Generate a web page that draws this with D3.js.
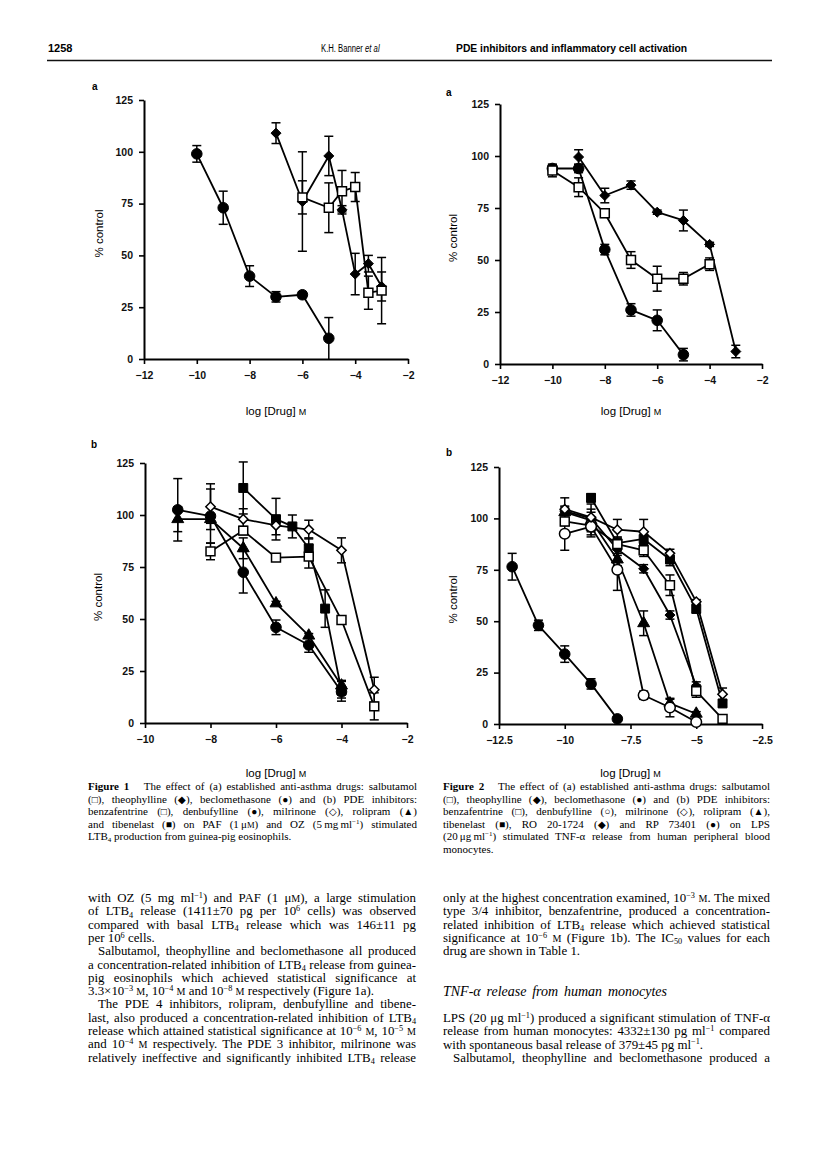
<!DOCTYPE html>
<html>
<head>
<meta charset="utf-8">
<script src="https://cdn.jsdelivr.net/npm/d3@7"></script>
<style>
body{margin:0;background:#fff}
svg{display:block}
.sans{font-family:"Liberation Sans",Arial,sans-serif}
.serif{font-family:"Liberation Serif","Times New Roman",serif;white-space:pre}
</style>
</head>
<body>
<script>
// tick values
var yTicks = [0, 25, 50, 75, 100, 125];
var xTicksA = [-12, -10, -8, -6, -4, -2];
var xTicks1b = [-10, -8, -6, -4, -2];
var xTicks2b = [-12.5, -10, -7.5, -5, -2.5];

// Figure 1a  [log dose, % control, s.e.]
var f1aSalbutamol = [[-6,78,8],[-5,73,12],[-4.5,81,10],[-4,83,7],[-3.5,32,8],[-3,33,16]];
var f1aTheophylline = [[-7,109,5],[-6,76,24],[-5,98,9.5],[-4.5,72,2],[-4,41,10],[-3.5,46,4],[-3,35,7]];
var f1aBeclomethasone = [[-10,99,4],[-9,73,8],[-8,40,5],[-7,30,2.5],[-6,31,1.5],[-5,10,10]];

// Figure 2a
var f2aSalbutamol = [[-10,93,3],[-9,85,4.5],[-8,72.5,2],[-7,50,4],[-6,41,6],[-5,41,3],[-4,48,3]];
var f2aTheophylline = [[-9,99.5,3.5],[-8,81,3.5],[-7,86,2],[-6,73,1],[-5,69,5],[-4,57.5,1],[-3,6,3]];
var f2aBeclomethasone = [[-10,94,2],[-9,94,2],[-8,55,2.5],[-7,26,3],[-6,21,5],[-5,4.5,3]];

// Figure 1b
var f1bBenzafentrine = [[-8,82.5,4],[-7,92.5,2],[-6,79.5,1],[-5,80,5.5],[-4,49.5,1],[-3,8,6.5]];
var f1bDenbufylline = [[-9,102.5,15],[-8,99.5,13],[-7,72.5,10],[-6,46,3.5],[-5,37.5,3.5],[-4,15,3]];
var f1bMilrinone = [[-8,104,11],[-7,98,5],[-6,95,4.5],[-5,93,4.5],[-4,83,6],[-3,16,6]];
var f1bRolipram = [[-9,98,6],[-8,98,2],[-7,84,5],[-6,57.5,1],[-5,42,1],[-4,18,2]];
var f1bTibenelast = [[-7,113,12.5],[-6,98,10],[-5.5,94.5,5.5],[-5,84,5],[-4.5,55,9],[-4,15.5,5]];

// Figure 2b
var f2bBenzafentrine = [[-10,98.5,2],[-9,96.5,3],[-8,87.5,3],[-7,84.5,3],[-6,67.5,5],[-5,16,3],[-4,2.5,1]];
var f2bDenbufylline = [[-10,92.5,8],[-9,96,4],[-8,75,10],[-7,14,2],[-6,8,4.5],[-5,1,1]];
var f2bMilrinone = [[-10,104.5,5.5],[-9,100.5,4],[-8,94.5,5],[-7,93.5,6],[-6,83,2],[-5,59.5,1],[-4,14.5,3]];
var f2bRolipram = [[-10,103,3],[-9,99,8],[-8,80,3],[-7,49,6],[-6,10,2],[-5,5,1]];
var f2bTibenelast = [[-9,110,2],[-8,88,3],[-7,90,3],[-6,80,3],[-5,56,2],[-4,10,1.5]];
var f2bRO201724 = [[-10,103.5,2],[-9,100,3],[-8,85,3],[-7,75.5,2],[-6,53,2],[-5,18.5,2]];
var f2bRP73401 = [[-12,76.5,6.5],[-11,48,2.5],[-10,34,4],[-9,19.5,2.5],[-8,2.5,1]];

var svg = d3.select("body").append("svg").attr("width", 816).attr("height", 1161);

// marker shapes: [d3 symbol, size, filled]
var markers = {
	squareOpen: [d3.symbolSquare, 80, false],
	squareFilled: [d3.symbolSquare, 80, true],
	circleFilled: [d3.symbolCircle, 88, true],
	circleOpen: [d3.symbolCircle, 88, false],
	diamondFilled: [d3.symbolDiamond2 || d3.symbolDiamond, 64, true],
	diamondOpen: [d3.symbolDiamond2 || d3.symbolDiamond, 56, false],
	triangleFilled: [d3.symbolTriangle, 62, true]
};

function fmt(d){ return (d < 0 ? "\u2212" : "") + Math.abs(d); }

function drawPanel(cfg){
	var g = svg.append("g");
	var x = d3.scaleLinear().domain(cfg.xDomain).range(cfg.xRange);
	var y = d3.scaleLinear().domain([0, 125]).range(cfg.yRange);

	var xa = g.append("g").attr("transform", "translate(0," + cfg.yRange[0] + ")")
		.call(d3.axisBottom(x).tickValues(cfg.xTicks).tickSize(5).tickSizeOuter(0).tickPadding(8).tickFormat(fmt));
	var ya = g.append("g").attr("transform", "translate(" + cfg.xRange[0] + ",0)")
		.call(d3.axisLeft(y).tickValues(yTicks).tickSize(5).tickSizeOuter(0).tickPadding(6));
	[xa, ya].forEach(function(a){
		a.select(".domain").attr("stroke-width", 2);
		a.selectAll(".tick line").attr("stroke-width", 1.6);
		a.selectAll("text").attr("class", "sans").style("font-size", "10.5px").style("font-weight", "bold").attr("fill", "#111");
	});

	// panel letter
	g.append("text").attr("class", "sans").attr("x", cfg.letterPos[0]).attr("y", cfg.letterPos[1])
		.style("font-size", "10px").style("font-weight", "bold").text(cfg.letter);

	// axis titles
	var midY = (cfg.yRange[0] + cfg.yRange[1]) / 2 + 4;
	g.append("text").attr("class", "sans").style("font-size", "11.5px").attr("text-anchor", "middle")
		.attr("transform", "translate(" + cfg.yLabelX + "," + midY + ") rotate(-90)").text("% control");
	var xt = g.append("text").attr("class", "sans").style("font-size", "11.5px").attr("text-anchor", "middle")
		.attr("x", (cfg.xRange[0] + cfg.xRange[1]) / 2).attr("y", cfg.titleY);
	xt.append("tspan").text("log [Drug] ");
	xt.append("tspan").style("font-size", "9px").text("M");

	var line = d3.line().x(function(d){ return x(d[0]); }).y(function(d){ return y(d[1]); });

	cfg.series.forEach(function(s){
		g.append("path").datum(s.data).attr("d", line).attr("fill", "none")
			.attr("stroke", "#000").attr("stroke-width", 1.8).attr("stroke-linejoin", "round");
	});
	cfg.series.forEach(function(s){
		var eb = g.append("g").attr("stroke", "#000").attr("stroke-width", 1.5);
		s.data.forEach(function(d){
			if (!d[2]) return;
			var cx = x(d[0]), t = y(d[1] + d[2]), b = y(Math.max(0, d[1] - d[2]));
			eb.append("line").attr("x1", cx).attr("x2", cx).attr("y1", t).attr("y2", b);
			eb.append("line").attr("x1", cx - 4.5).attr("x2", cx + 4.5).attr("y1", t).attr("y2", t);
			if (d[1] - d[2] > 0) eb.append("line").attr("x1", cx - 4.5).attr("x2", cx + 4.5).attr("y1", b).attr("y2", b);
		});
	});
	cfg.series.forEach(function(s){
		var m = markers[s.marker];
		g.selectAll(null).data(s.data).enter().append("path")
			.attr("transform", function(d){ return "translate(" + x(d[0]) + "," + y(d[1]) + ")"; })
			.attr("d", d3.symbol().type(m[0]).size(m[1]))
			.attr("fill", m[2] ? "#000" : "#fff")
			.attr("stroke", "#000").attr("stroke-width", m[2] ? 1 : 1.5);
	});
}

drawPanel({letter: "a", letterPos: [92, 90], xDomain: [-12, -2], xRange: [144, 408], yRange: [359, 100],
	xTicks: xTicksA, yLabelX: 103, titleY: 415,
	series: [{data: f1aBeclomethasone, marker: "circleFilled"}, {data: f1aTheophylline, marker: "diamondFilled"},
		{data: f1aSalbutamol, marker: "squareOpen"}]});
drawPanel({letter: "a", letterPos: [446, 96], xDomain: [-12, -2], xRange: [500, 762], yRange: [364, 104],
	xTicks: xTicksA, yLabelX: 457, titleY: 415,
	series: [{data: f2aBeclomethasone, marker: "circleFilled"}, {data: f2aTheophylline, marker: "diamondFilled"},
		{data: f2aSalbutamol, marker: "squareOpen"}]});
drawPanel({letter: "b", letterPos: [91, 448], xDomain: [-10, -2], xRange: [145, 407], yRange: [723, 463],
	xTicks: xTicks1b, yLabelX: 102, titleY: 777,
	series: [{data: f1bDenbufylline, marker: "circleFilled"}, {data: f1bRolipram, marker: "triangleFilled"},
		{data: f1bTibenelast, marker: "squareFilled"}, {data: f1bBenzafentrine, marker: "squareOpen"},
		{data: f1bMilrinone, marker: "diamondOpen"}]});
drawPanel({letter: "b", letterPos: [446, 456], xDomain: [-12.5, -2.5], xRange: [499, 762], yRange: [724, 467],
	xTicks: xTicks2b, yLabelX: 457, titleY: 777,
	series: [{data: f2bRP73401, marker: "circleFilled"}, {data: f2bRO201724, marker: "diamondFilled"},
		{data: f2bRolipram, marker: "triangleFilled"}, {data: f2bTibenelast, marker: "squareFilled"},
		{data: f2bBenzafentrine, marker: "squareOpen"}, {data: f2bDenbufylline, marker: "circleOpen"},
		{data: f2bMilrinone, marker: "diamondOpen"}]});

// header, squeezed horizontally to look like the condensed face of the journal
function headText(x, sx, bold, parts){
	var t = svg.append("text").attr("class", "sans").attr("transform", "translate(" + x + ",52) scale(" + sx + ",1)")
		.style("font-size", "11px");
	if (bold) t.style("font-weight", "bold");
	parts.forEach(function(p){ t.append("tspan").style("font-style", p[1] ? "italic" : "normal").text(p[0]); });
}
headText(48, 1, true, [["1258"]]);
headText(321, 0.7, false, [["K.H. Banner "], ["et al", true]]);
headText(456, 0.94, true, [["PDE inhibitors and inflammatory cell activation"]]);
svg.append("line").attr("x1", 47).attr("x2", 772).attr("y1", 60.5).attr("y2", 60.5).attr("stroke", "#111").attr("stroke-width", 1.5);

// running text with ^{sup}, _{sub}, **bold**, ~small~, #symbol# ; sizes in em so a block can be rescaled
function richLine(x, y, w, str, justify, italic){
	var t = svg.append("text").attr("class", "serif").attr("x", x).attr("y", y);
	if (italic) t.style("font-style", "italic");
	var parts = str.split(/(\^\{[^}]*\}|_\{[^}]*\}|\*\*[^*]+\*\*|~[^~]+~|#[^#]+#)/).filter(function(s){ return s.length; });
	var shift = 0;
	parts.forEach(function(p){
		var ts = t.append("tspan"), dy = 0, txt = p, k = 1;
		if (p.indexOf("^{") === 0){ txt = p.slice(2, -1); dy = -0.32; k = 0.64; }
		else if (p.indexOf("_{") === 0){ txt = p.slice(2, -1); dy = 0.2; k = 0.64; }
		else if (p.indexOf("**") === 0){ txt = p.slice(2, -2); ts.style("font-weight", "bold"); }
		else if (p[0] === "~"){ txt = p.slice(1, -1); k = 0.78; }
		else if (p[0] === "#"){ txt = p.slice(1, -1); k = 0.92; }
		if (k !== 1) ts.style("font-size", k + "em");
		if (dy - shift !== 0) ts.attr("dy", ((dy - shift) / k) + "em");
		shift = dy;
		ts.text(txt);
	});
	return {sel: t, w: w, justify: justify};
}

// justify lines by word spacing; a line that is too long is squeezed
function setBlock(lines, size){
	lines.forEach(function(l){
		l.sel.style("font-size", size + "px");
		if (!l.justify) return;
		var len = l.sel.node().getComputedTextLength();
		var n = (l.sel.text().match(/ /g) || []).length;
		if (len > l.w) l.sel.attr("textLength", l.w).attr("lengthAdjust", "spacing");
		else if (n) l.sel.style("word-spacing", ((l.w - len) / n) + "px");
	});
}

var cap1 = [
	"**Figure 1**   The effect of (a) established anti-asthma drugs: salbutamol",
	"(#\u25a1#), theophylline (#\u25c6#), beclomethasone (#\u25cf#) and (b) PDE inhibitors:",
	"benzafentrine (#\u25a1#), denbufylline (#\u25cf#), milrinone (#\u25c7#), rolipram (#\u25b2#)",
	"and tibenelast (#\u25a0#) on PAF (1\u2009\u03bc~M~) and OZ (5\u2009mg\u2009ml^{\u22121}) stimulated",
	"LTB_{4} production from guinea-pig eosinophils."
];
var cap2 = [
	"**Figure 2**   The effect of (a) established anti-asthma drugs: salbutamol",
	"(#\u25a1#), theophylline (#\u25c6#), beclomethasone (#\u25cf#) and (b) PDE inhibitors:",
	"benzafentrine (#\u25a1#), denbufylline (#\u25cb#), milrinone (#\u25c7#), rolipram (#\u25b2#),",
	"tibenelast (#\u25a0#), RO 20-1724 (#\u25c6#) and RP 73401 (#\u25cf#) on LPS",
	"(20\u2009\u03bcg\u2009ml^{\u22121}) stimulated TNF-\u03b1 release from human peripheral blood",
	"monocytes."
];
setBlock(cap1.map(function(s, i){ return richLine(88, 790 + i * 12.5, 329, s, i < cap1.length - 1); }), 11);
setBlock(cap2.map(function(s, i){ return richLine(443, 790 + i * 12.5, 327, s, i < cap2.length - 1); }), 11);

// body text: [text, justified, indent]
var bodyLeft = [
	["with OZ (5 mg ml^{\u22121}) and PAF (1 \u03bc~M~), a large stimulation", true, 0],
	["of LTB_{4} release (1411\u00b170 pg per 10^{6} cells) was observed", true, 0],
	["compared with basal LTB_{4} release which was 146\u00b111 pg", true, 0],
	["per 10^{6} cells.", false, 0],
	["Salbutamol, theophylline and beclomethasone all produced", true, 10],
	["a concentration-related inhibition of LTB_{4} release from guinea-", true, 0],
	["pig eosinophils which achieved statistical significance at", true, 0],
	["3.3\u00d710^{\u22123} ~M~, 10^{\u22124} ~M~ and 10^{\u22128} ~M~ respectively (Figure 1a).", false, 0],
	["The PDE 4 inhibitors, rolipram, denbufylline and tibene-", true, 10],
	["last, also produced a concentration-related inhibition of LTB_{4}", true, 0],
	["release which attained statistical significance at 10^{\u22126} ~M~, 10^{\u22125} ~M~", true, 0],
	["and 10^{\u22124} ~M~ respectively. The PDE 3 inhibitor, milrinone was", true, 0],
	["relatively ineffective and significantly inhibited LTB_{4} release", true, 0]
];
var bodyRight = [
	["only at the highest concentration examined, 10^{\u22123} ~M~. The mixed", true, 0],
	["type 3/4 inhibitor, benzafentrine, produced a concentration-", true, 0],
	["related inhibition of LTB_{4} release which achieved statistical", true, 0],
	["significance at 10^{\u22126} ~M~ (Figure 1b). The IC_{50} values for each", true, 0],
	["drug are shown in Table 1.", false, 0]
];
var bodyRight2 = [
	["LPS (20 \u03bcg ml^{\u22121}) produced a significant stimulation of TNF-\u03b1", true, 0],
	["release from human monocytes: 4332\u00b1130 pg ml^{\u22121} compared", true, 0],
	["with spontaneous basal release of 379\u00b145 pg ml^{\u22121}.", false, 0],
	["Salbutamol, theophylline and beclomethasone produced a", true, 10]
];
var body = [];
bodyLeft.forEach(function(r, i){ body.push(richLine(88 + r[2], 902 + i * 13.3, 328 - r[2], r[0], r[1])); });
bodyRight.forEach(function(r, i){ body.push(richLine(443 + r[2], 902 + i * 13.3, 327 - r[2], r[0], r[1])); });
bodyRight2.forEach(function(r, i){ body.push(richLine(443 + r[2], 1022 + i * 13.3, 327 - r[2], r[0], r[1])); });
setBlock(body, 12.9);
var head = richLine(443, 996, 224, "TNF-\u03b1 release from human monocytes", true, true);
setBlock([head], 14);
</script>
</body>
</html>
